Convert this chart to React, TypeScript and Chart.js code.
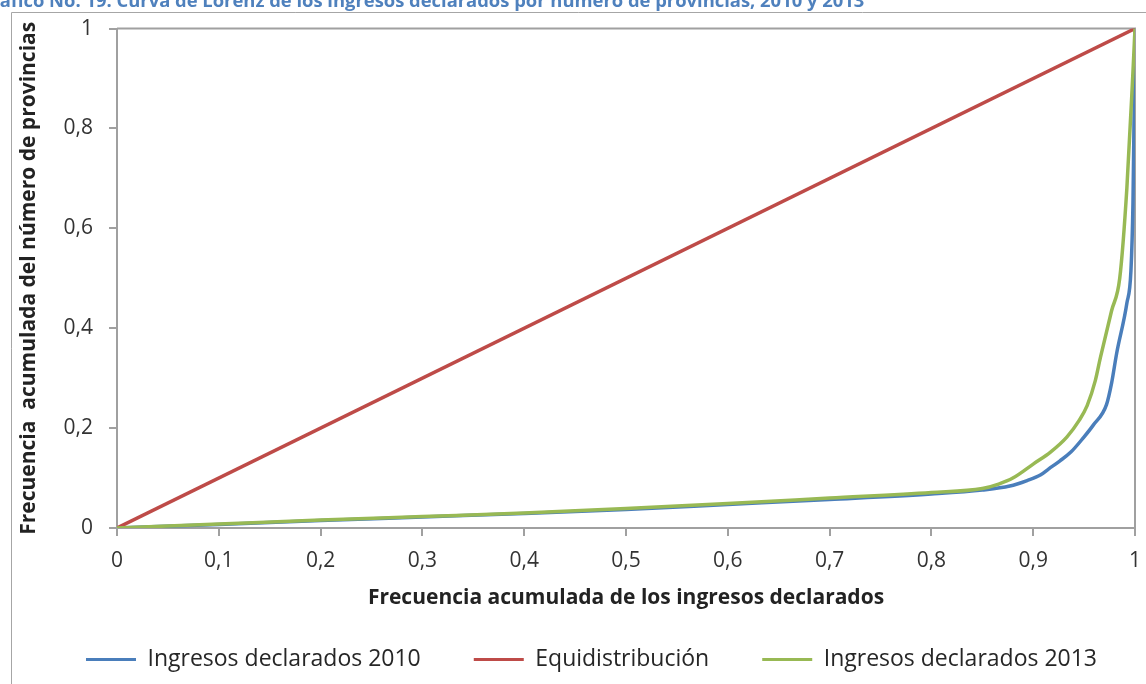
import React, { useEffect, useRef } from "react";
import { Chart, registerables } from "chart.js";

Chart.register(...registerables);

const TITLE = "Gráfico No. 19: Curva de Lorenz de los ingresos declarados por número de provincias, 2010 y 2013";
const X_TITLE = "Frecuencia acumulada de los ingresos declarados";
const Y_TITLE = "Frecuencia  acumulada del número de provincias";

const seriesLabels = ["Ingresos declarados 2010", "Equidistribución", "Ingresos declarados 2013"];
const seriesColors = ["#4A7EBB", "#BE4B48", "#98B954"];

const x2010 = [0, 0.1, 0.2, 0.3, 0.4, 0.5, 0.6, 0.7, 0.8, 0.85, 0.877, 0.894, 0.907, 0.915, 0.926, 0.937, 0.949, 0.959, 0.972, 0.977, 0.982, 0.992, 0.996, 0.998, 0.999, 1];
const y2010 = [0, 0.007, 0.015, 0.022, 0.029, 0.037, 0.047, 0.057, 0.068, 0.076, 0.084, 0.095, 0.106, 0.118, 0.134, 0.152, 0.18, 0.206, 0.247, 0.29, 0.35, 0.45, 0.515, 0.65, 0.81, 1];

const xEqui = [0, 1];
const yEqui = [0, 1];

const x2013 = [0, 0.1, 0.2, 0.3, 0.4, 0.5, 0.6, 0.7, 0.8, 0.85, 0.866, 0.88, 0.9, 0.917, 0.933, 0.945, 0.953, 0.961, 0.966, 0.977, 0.985, 0.992, 0.998, 1];
const y2013 = [0, 0.008, 0.016, 0.023, 0.03, 0.039, 0.049, 0.06, 0.071, 0.079, 0.088, 0.1, 0.128, 0.152, 0.182, 0.215, 0.245, 0.295, 0.341, 0.435, 0.5, 0.68, 0.914, 1];

const xTickLabels = ["0", "0,1", "0,2", "0,3", "0,4", "0,5", "0,6", "0,7", "0,8", "0,9", "1"];
const yTickLabels = ["0", "0,2", "0,4", "0,6", "0,8", "1"];

const toPoints = (xs: number[], ys: number[]) => xs.map((x, i) => ({ x, y: ys[i] }));

const FONT = "'Open Sans', 'Noto Sans', sans-serif";
const AXIS_GREY = "#A0A0A0";

const framePlugin = {
  id: "frame",
  afterLayout(chart: any) {
    const lg = chart.legend;
    if (lg) {
      lg.top = 595;
      lg.left = lg.left + 24;
      lg.right = lg.right + 24;
    }
  },
  beforeDraw(chart: any) {
    const { ctx } = chart;
    ctx.save();
    ctx.fillStyle = "#ffffff";
    ctx.fillRect(0, 0, chart.width, chart.height);
    ctx.strokeStyle = "#A6A6A6";
    ctx.lineWidth = 1;
    ctx.beginPath();
    ctx.moveTo(11.5, chart.height);
    ctx.lineTo(11.5, 12.5);
    ctx.lineTo(chart.width, 12.5);
    ctx.stroke();
    ctx.restore();
  },
  beforeDatasetsDraw(chart: any) {
    const { ctx, chartArea } = chart;
    ctx.save();
    ctx.strokeStyle = AXIS_GREY;
    ctx.lineWidth = 2;
    ctx.beginPath();
    ctx.moveTo(chartArea.left, chartArea.top);
    ctx.lineTo(chartArea.right, chartArea.top);
    ctx.lineTo(chartArea.right, chartArea.bottom);
    ctx.stroke();
    ctx.restore();
  },
};

export default function App() {
  const canvasRef = useRef<HTMLCanvasElement | null>(null);

  useEffect(() => {
    const canvas = canvasRef.current;
    if (!canvas) return;
    const orders = [2, 1, 0];
    const xs = [x2010, xEqui, x2013];
    const ys = [y2010, yEqui, y2013];
    const chart = new Chart(canvas, {
      type: "line",
      data: {
        datasets: seriesLabels.map((label, i) => ({
          label,
          data: toPoints(xs[i], ys[i]),
          borderColor: seriesColors[i],
          backgroundColor: seriesColors[i],
          borderWidth: 3.5,
          pointRadius: 0,
          cubicInterpolationMode: i === 1 ? "default" : "monotone",
          fill: false,
          order: orders[i],
        })),
      },
      options: {
        responsive: false,
        animation: false,
        layout: { padding: { top: 27, right: 11, bottom: 0, left: 0 } },
        plugins: {
          tooltip: { enabled: false },
          title: { display: false },
          legend: {
            position: "bottom",
            maxHeight: 60,
            labels: {
              boxWidth: 50,
              boxHeight: 3,
              padding: 53,
              color: "#262626",
              font: { family: FONT, size: 23 },
              sort: (a: any, b: any) => a.datasetIndex - b.datasetIndex,
              generateLabels: (c: any) =>
                Chart.defaults.plugins.legend.labels.generateLabels(c).map((it: any) => ({
                  ...it,
                  fillStyle: it.strokeStyle,
                  lineWidth: 0,
                })),
            },
          },
        },
        scales: {
          x: {
            type: "linear",
            min: 0,
            max: 1,
            afterFit: (s: any) => {
              s.height = 96;
              s.paddingLeft = 0;
              s.paddingRight = 0;
            },
            ticks: {
              stepSize: 0.1,
              padding: 12,
              color: "#333333",
              font: { family: FONT, size: 21 },
              maxRotation: 0,
              autoSkip: false,
              callback: (_v: any, i: number) => xTickLabels[i],
            },
            grid: { drawOnChartArea: false, drawTicks: true, tickLength: 8, color: AXIS_GREY, lineWidth: 2 },
            border: { color: AXIS_GREY, width: 2 },
            title: {
              display: true,
              text: X_TITLE,
              color: "#222222",
              font: { family: FONT, size: 21, weight: "bold" },
              padding: { top: 0, bottom: 13 },
            },
          },
          y: {
            type: "linear",
            min: 0,
            max: 1,
            afterFit: (s: any) => {
              s.width = 117;
            },
            ticks: {
              stepSize: 0.2,
              padding: 16,
              color: "#333333",
              font: { family: FONT, size: 21 },
              callback: (_v: any, i: number) => yTickLabels[i],
            },
            grid: { drawOnChartArea: false, drawTicks: true, tickLength: 8, color: AXIS_GREY, lineWidth: 2 },
            border: { color: AXIS_GREY, width: 2 },
            title: {
              display: true,
              text: Y_TITLE,
              color: "#222222",
              font: { family: FONT, size: 21, weight: "bold" },
              padding: { top: 16, bottom: 0 },
            },
          },
        },
      },
      plugins: [framePlugin],
    });
    return () => chart.destroy();
  }, []);

  return (
    <div style={{ position: "fixed", left: 0, top: 0, width: 1146, height: 684, overflow: "hidden", background: "#fff" }}>
      <canvas ref={canvasRef} width={1146} height={684} style={{ display: "block" }} />
      <div
        style={{
          position: "absolute",
          left: -22,
          top: -9,
          whiteSpace: "nowrap",
          fontFamily: FONT,
          fontWeight: "bold",
          fontSize: 18.4,
          lineHeight: "18px",
          color: "#4F81BD",
        }}
      >
        {TITLE}
      </div>
    </div>
  );
}
